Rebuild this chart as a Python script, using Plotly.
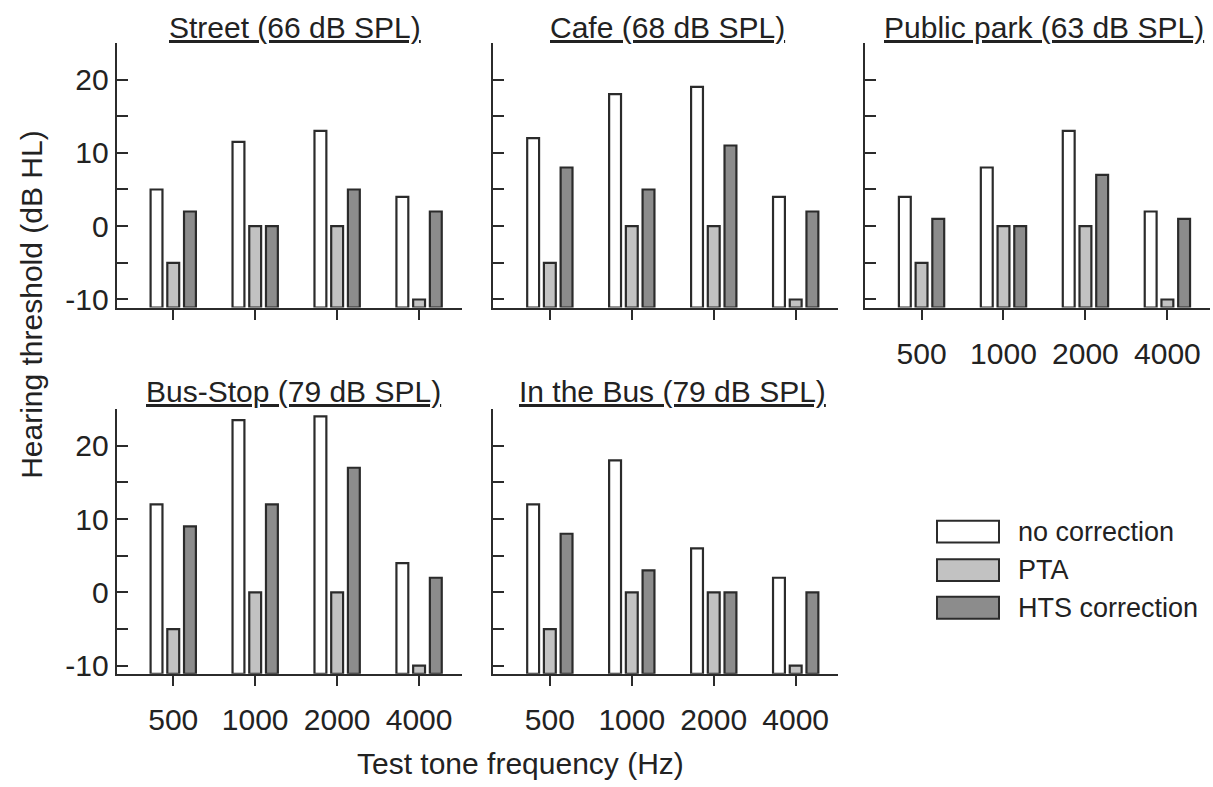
import plotly.graph_objects as go

# ---------------- data ----------------
frequencies = ["500", "1000", "2000", "4000"]
series_names = ["no correction", "PTA", "HTS correction"]
panel_titles = ["Street (66 dB SPL)", "Cafe (68 dB SPL)", "Public park (63 dB SPL)",
                "Bus-Stop (79 dB SPL)", "In the Bus (79 dB SPL)"]

street_no_corr = [5, 11.5, 13, 4]
street_pta = [-5, 0, 0, -10]
street_hts = [2, 0, 5, 2]

cafe_no_corr = [12, 18, 19, 4]
cafe_pta = [-5, 0, 0, -10]
cafe_hts = [8, 5, 11, 2]

park_no_corr = [4, 8, 13, 2]
park_pta = [-5, 0, 0, -10]
park_hts = [1, 0, 7, 1]

busstop_no_corr = [12, 23.5, 24, 4]
busstop_pta = [-5, 0, 0, -10]
busstop_hts = [9, 12, 17, 2]

inbus_no_corr = [12, 18, 6, 2]
inbus_pta = [-5, 0, 0, -10]
inbus_hts = [8, 3, 0, 0]

y_tick_vals = [-10, -5, 0, 5, 10, 15, 20, 25]
y_tick_text = ["-10", "", "0", "", "10", "", "20", ""]

# ---------------- style ----------------
W, H = 1213, 787
FONT = "Liberation Sans, Arial, sans-serif"
TXT = "#222222"
LINE = "#2b2b2b"
colors = ["#ffffff", "#c2c2c2", "#8c8c8c"]
BASE = -11.1
Y_RANGE = [BASE, 25]
X_RANGE = [-0.69, 3.52]
BAR_W = 0.145
BAR_STEP = 0.204

panels = [
    (street_no_corr, street_pta, street_hts),
    (cafe_no_corr, cafe_pta, cafe_hts),
    (park_no_corr, park_pta, park_hts),
    (busstop_no_corr, busstop_pta, busstop_hts),
    (inbus_no_corr, inbus_pta, inbus_hts),
]

# pixel boxes (left, right, top, bottom)
boxes = [
    (116.7, 461.7, 43.3, 310.7),
    (493.3, 838.3, 43.3, 310.7),
    (865.0, 1210.0, 43.3, 310.7),
    (116.7, 461.7, 413.3, 680.7),
    (493.3, 838.3, 413.3, 680.7),
]
show_x_labels = [False, False, True, True, True]
show_y_labels = [True, False, False, True, False]
title_centers = [(295, 28), (667, 28), (1044, 28), (293, 396), (672, 396)]

fig = go.Figure()
x_pos = list(range(len(frequencies)))

for p, (vals, box) in enumerate(zip(panels, boxes)):
    sfx = "" if p == 0 else str(p + 1)
    for s, v in enumerate(vals):
        fig.add_trace(go.Bar(
            x=x_pos,
            y=[val - BASE for val in v],
            base=[BASE] * len(v),
            width=BAR_W,
            offset=(s - 1) * BAR_STEP - BAR_W / 2,
            marker=dict(color=colors[s], line=dict(color=LINE, width=2.2)),
            name=series_names[s],
            showlegend=False,
            xaxis="x" + sfx,
            yaxis="y" + sfx,
            hovertext=[f"{series_names[s]}: {val}" for val in v],
        ))
    l, r, t, b = box
    fig.layout["xaxis" + sfx] = dict(
        domain=[l / W, r / W], anchor="y" + sfx, range=X_RANGE,
        tickvals=x_pos, ticktext=frequencies if show_x_labels[p] else [""] * 4,
        ticks="outside", ticklen=10, tickwidth=2, tickcolor=LINE,
        ticklabelstandoff=8,
        showline=True, linecolor=LINE, linewidth=2, showgrid=False, zeroline=False,
        tickfont=dict(family=FONT, size=30, color=TXT), fixedrange=True,
    )
    fig.layout["yaxis" + sfx] = dict(
        domain=[1 - b / H, 1 - t / H], anchor="x" + sfx, range=Y_RANGE,
        tickvals=y_tick_vals, ticktext=y_tick_text if show_y_labels[p] else [""] * 8,
        ticks="inside", ticklen=11, tickwidth=2, tickcolor=LINE,
        showline=True, linecolor=LINE, linewidth=2, showgrid=False, zeroline=False,
        tickfont=dict(family=FONT, size=30, color=TXT), fixedrange=True,
    )
    cx, cy = title_centers[p]
    fig.add_annotation(
        text=panel_titles[p], x=cx / W, y=1 - cy / H, xref="paper", yref="paper",
        xanchor="center", yanchor="middle", showarrow=False,
        font=dict(family=FONT, size=30, color=TXT, lineposition="under"),
    )

# axis titles
fig.add_annotation(text="Hearing threshold (dB HL)", x=32 / W, y=1 - 308 / H,
                   xref="paper", yref="paper", textangle=-90, showarrow=False,
                   xanchor="center", yanchor="middle",
                   font=dict(family=FONT, size=30, color=TXT))
fig.add_annotation(text="Test tone frequency (Hz)", x=520 / W, y=1 - 771 / H,
                   xref="paper", yref="paper", showarrow=False,
                   xanchor="center", yanchor="middle",
                   font=dict(family=FONT, size=30, color=TXT))

# legend drawn as boxes + labels
legend_rows = [537, 576, 614]
for s, yc in enumerate(legend_rows):
    fig.add_shape(type="rect", xref="paper", yref="paper",
                  x0=937 / W, x1=999 / W, y0=1 - (yc + 11) / H, y1=1 - (yc - 11) / H,
                  fillcolor=colors[s], line=dict(color=LINE, width=2))
    fig.add_annotation(text=series_names[s], x=1016 / W, y=1 - yc / H,
                       xref="paper", yref="paper", showarrow=False,
                       xanchor="left", yanchor="middle",
                       font=dict(family=FONT, size=27, color=TXT))

fig.update_layout(
    width=W, height=H, margin=dict(l=0, r=0, t=0, b=0),
    paper_bgcolor="white", plot_bgcolor="white",
    barmode="overlay", showlegend=False,
)

fig.write_html("out.html")
